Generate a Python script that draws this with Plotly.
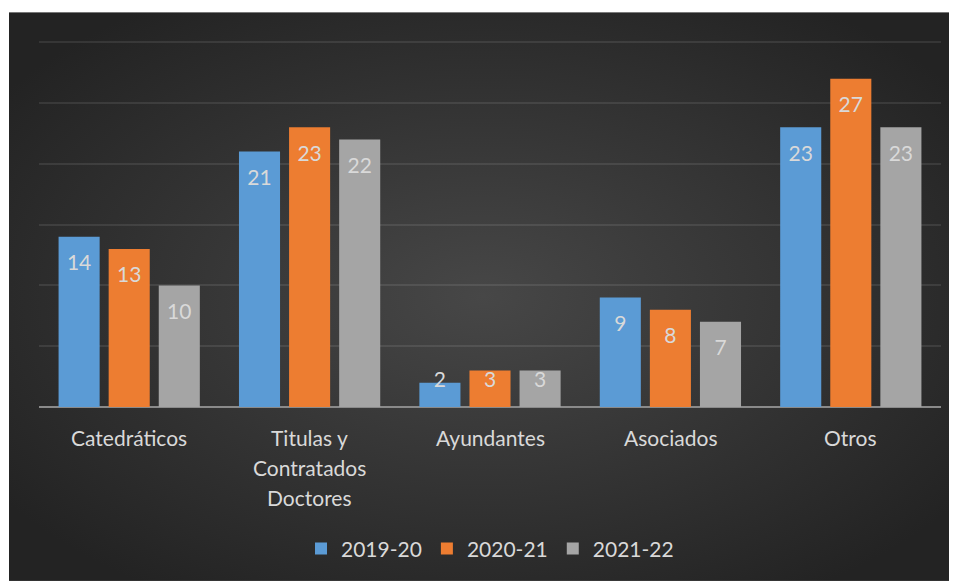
import base64
import plotly.graph_objects as go

categories = ["Catedráticos", "Titulas y\nContratados\nDoctores", "Ayundantes", "Asociados", "Otros"]
series_names = ["2019-20", "2020-21", "2021-22"]
values_2019 = [14, 21, 2, 9, 23]
values_2020 = [13, 23, 3, 8, 27]
values_2021 = [10, 22, 3, 7, 23]
colors = ["#5B9BD5", "#ED7D31", "#A5A5A5"]
series_values = [values_2019, values_2020, values_2021]

OFF = 8  # page body margin
W, H = 957 - OFF, 581 - OFF
y_top_val = 30          # last gridline value
y_range_max = 31        # axis range extends a bit above so the top gridline is drawn
px_per_unit = (407 - 42) / y_top_val
L = 39 - OFF
R = W - (941 - OFF)
B = H - (407 - OFF)
T = (407 - OFF) - y_range_max * px_per_unit
plot_w = W - L - R
plot_h = H - T - B

bargap = 0.167
bargroupgap = 0.18
slot = (1 - bargap) / 3
FONT = "Lato, Open Sans, sans-serif"
FS = 21
TXT = "#d9d9d9"

fig = go.Figure()
xs = list(range(len(categories)))
for name, vals, col in zip(series_names, series_values, colors):
    fig.add_trace(go.Bar(x=xs, y=vals, name=name, marker=dict(color=col, line=dict(width=0)),
                         hoverinfo="y"))

# data labels (inside end, clamped for short bars)
for j, vals in enumerate(series_values):
    off = (j - 1) * slot
    ypos = [max(v - 28 / px_per_unit, 25 / px_per_unit) for v in vals]
    fig.add_trace(go.Scatter(x=[x + off for x in xs], y=ypos, mode="text",
                             text=[str(v) for v in vals], textposition="middle center",
                             textfont=dict(family=FONT, size=FS, color=TXT),
                             showlegend=False, hoverinfo="skip"))

# category labels
annotations = []
for i, cat in enumerate(categories):
    for k, line in enumerate(cat.split("\n")):
        annotations.append(dict(x=i, y=0, xref="x", yref="y", text=line, showarrow=False,
                                yanchor="middle", yshift=-(30 + 30 * k),
                                font=dict(family=FONT, size=FS, color=TXT)))

svg = ('<svg xmlns="http://www.w3.org/2000/svg" width="948" height="569" preserveAspectRatio="none">'
       '<defs><radialGradient id="g" cx="50%" cy="50%" r="62%">'
       '<stop offset="0" stop-color="#474747"/><stop offset="1" stop-color="#232323"/>'
       '</radialGradient></defs><rect width="948" height="569" fill="url(#g)"/></svg>')
src = "data:image/svg+xml;base64," + base64.b64encode(svg.encode()).decode()

bg_x0, bg_y0, bg_x1, bg_y1 = 9 - OFF, 12 - OFF, W, H
fig.add_layout_image(dict(source=src, xref="paper", yref="paper",
                          x=(bg_x0 - L) / plot_w, y=(H - B - bg_y0) / plot_h,
                          sizex=(bg_x1 - bg_x0) / plot_w, sizey=(bg_y1 - bg_y0) / plot_h,
                          xanchor="left", yanchor="top", sizing="stretch", layer="below"))

fig.update_layout(
    width=W, height=H,
    margin=dict(l=L, r=R, t=T, b=B, pad=0),
    paper_bgcolor="white", plot_bgcolor="rgba(0,0,0,0)",
    barmode="group", bargap=bargap, bargroupgap=bargroupgap,
    font=dict(family=FONT, size=FS, color=TXT),
    showlegend=True,
    legend=dict(orientation="h", x=0.5, xanchor="center", y=(H - B - (549 - OFF)) / plot_h,
                yanchor="middle", font=dict(family=FONT, size=FS, color=TXT),
                bgcolor="rgba(0,0,0,0)", itemclick=False, itemdoubleclick=False),
    annotations=annotations,
    xaxis=dict(range=[-0.5, len(categories) - 0.5], showticklabels=False, showgrid=False,
               zeroline=False, showline=False, fixedrange=True),
    yaxis=dict(range=[0, y_range_max], tickvals=[5, 10, 15, 20, 25, 30], showticklabels=False,
               showgrid=True, gridcolor="rgba(255,255,255,0.09)", gridwidth=2,
               zeroline=True, zerolinecolor="#8a8a8a", zerolinewidth=2, showline=False, fixedrange=True),
)

fig.write_html("out.html")
